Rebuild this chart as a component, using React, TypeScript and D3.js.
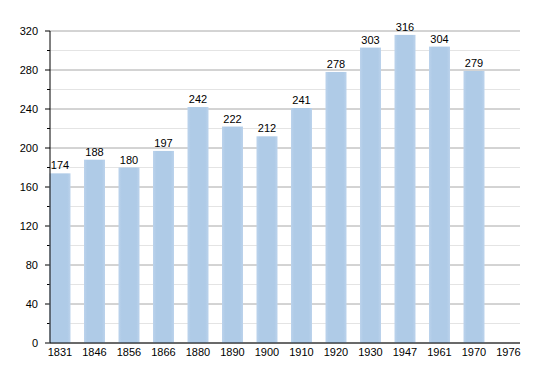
import React from "react";
import * as d3 from "d3";

const years = ["1831","1846","1856","1866","1880","1890","1900","1910","1920","1930","1947","1961","1970","1976"];
const population: (number | null)[] = [174,188,180,197,242,222,212,241,278,303,316,304,279,null];
const majorTicks = [0,40,80,120,160,200,240,280,320];
const minorTicks = [20,60,100,140,180,220,260,300];

const W = 550, H = 373;
const left = 50, right = 520, top = 31, bottom = 343;

export default function App() {
  const x = d3.scalePoint<string>().domain(years).range([60, 508.5]);
  const y = d3.scaleLinear().domain([0, 320]).range([bottom, top]);
  const bw = 21;
  const font = "'Liberation Sans', Arial, sans-serif";
  return (
    <svg width={W} height={H} style={{ position: "absolute", left: 0, top: 0 }} fontFamily={font}>
      <defs>
        <linearGradient id="bg" x1="0" x2="1" y1="0" y2="0">
          <stop offset="0" stopColor="#bcd3ec" />
          <stop offset="0.15" stopColor="#afcbe7" />
          <stop offset="0.85" stopColor="#afcbe7" />
          <stop offset="1" stopColor="#bcd3ec" />
        </linearGradient>
      </defs>
      <rect width={W} height={H} fill="#fff" />
      {minorTicks.map(t => (
        <g key={"mi" + t}>
          <line x1={left} x2={right} y1={y(t)} y2={y(t)} stroke="#e4e4e4" strokeWidth={1} />
          <line x1={left - 3} x2={left} y1={y(t)} y2={y(t)} stroke="#000" strokeWidth={1} />
        </g>
      ))}
      {majorTicks.map(t => (
        <g key={"ma" + t}>
          <line x1={left} x2={right} y1={y(t)} y2={y(t)} stroke="#a8a8a8" strokeWidth={1} />
          <line x1={left - 5} x2={left} y1={y(t)} y2={y(t)} stroke="#000" strokeWidth={1} />
          <text x={38} y={y(t) + 4} textAnchor="end" fontSize={11} fill="#000">{t}</text>
        </g>
      ))}
      {years.map((yr, i) => {
        const v = population[i];
        const cx = x(yr)!;
        return (
          <g key={yr}>
            {v != null && (
              <>
                <rect x={cx - bw / 2} y={y(v)} width={bw} height={bottom - y(v)} fill="url(#bg)" />
                <text x={cx} y={y(v) - 4} textAnchor="middle" fontSize={11} fill="#000">{v}</text>
              </>
            )}
            <text x={cx} y={356} textAnchor="middle" fontSize={11} fill="#000">{yr}</text>
          </g>
        );
      })}
      <line x1={left} x2={left} y1={top} y2={bottom} stroke="#000" strokeWidth={1} />
      <line x1={left} x2={right} y1={bottom} y2={bottom} stroke="#000" strokeWidth={1} />
    </svg>
  );
}
